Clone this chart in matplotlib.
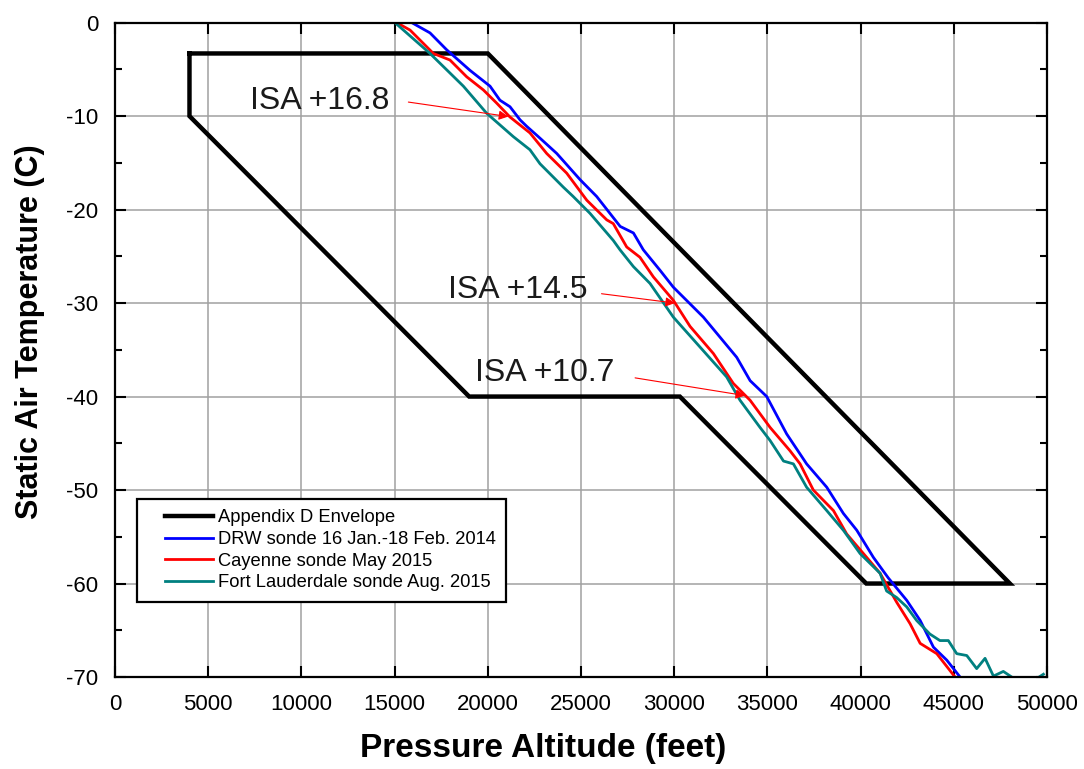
import numpy as np
import matplotlib
matplotlib.use('Agg')
import matplotlib.pyplot as plt
from matplotlib.ticker import MultipleLocator
from matplotlib.lines import Line2D
from matplotlib.legend_handler import HandlerLine2D

plt.rcParams['font.family'] = ['Liberation Sans', 'DejaVu Sans']
plt.rcParams['axes.unicode_minus'] = False

# Appendix D envelope corners (altitude ft, temperature C)
env_alt = [4000, 20000, 48000, 40300, 30300, 19000, 4000, 4000]
env_temp = [-3.3, -3.3, -60, -60, -40, -40, -10, -3.3]

# DRW sonde 16 Jan.-18 Feb. 2014
drw_alt = [15920, 16900, 17790, 19040, 20120, 20650, 21190, 21730, 22090, 22710,
           23700, 24950, 25840, 27100, 27810, 28340, 29240, 29950, 31560, 33350,
           34070, 34960, 36030, 37100, 38180, 39070, 39790, 40680, 41480, 42470,
           43190, 43900, 44620, 45330]
drw_temp = [0, -1.1, -2.9, -5.1, -6.8, -8.3, -9.0, -10.4, -11.1, -12.2,
            -14.0, -16.8, -18.6, -21.8, -22.5, -24.3, -26.5, -28.3, -31.5, -35.8,
            -38.3, -40.0, -44.0, -47.2, -49.7, -52.5, -54.3, -57.2, -59.4, -61.8,
            -63.95, -66.8, -68.2, -70.0]

# Cayenne sonde May 2015
cay_alt = [15110, 15830, 17080, 17970, 18870, 19760, 20470, 21190, 22260, 23160,
           24230, 25310, 26380, 26730, 27450, 28160, 28880, 29950, 30850, 32100,
           33170, 34070, 35140, 36210, 36750, 37460, 38540, 39250, 40320, 41040,
           41930, 42650, 43190, 44080, 45060]
cay_temp = [0, -0.8, -3.3, -4.0, -5.8, -7.2, -8.6, -10.1, -11.8, -14.0,
            -16.1, -19.0, -21.1, -21.5, -24.0, -25.1, -27.2, -29.7, -32.5, -35.4,
            -38.6, -40.4, -43.3, -45.8, -47.2, -50.0, -52.2, -54.7, -57.2, -58.9,
            -62.0, -64.3, -66.4, -67.5, -70.0]

# Fort Lauderdale sonde Aug. 2015
ftl_alt = [15020, 16900, 18690, 19940, 21370, 22260, 22800, 24050, 24580, 25480,
           26730, 27090, 27810, 28700, 29950, 31380, 32810, 33530, 34600, 35140,
           35860, 36390, 37100, 38180, 39070, 39970, 41040, 41390, 41930, 42470,
           43000, 43710, 44250, 44700, 45150, 45690, 46220, 46670, 47120, 47650,
           48100, 48800, 49800]
ftl_temp = [0, -3.3, -6.8, -9.7, -12.2, -13.6, -15.1, -17.6, -18.6, -20.4,
            -23.3, -24.3, -26.1, -27.9, -31.5, -34.7, -37.9, -40.4, -43.3, -44.7,
            -46.9, -47.2, -49.7, -52.2, -54.3, -56.8, -58.9, -60.8, -61.5, -62.5,
            -63.95, -65.4, -66.1, -66.1, -67.5, -67.7, -69.1, -68.0, -69.9, -69.4,
            -70.0, -71.0, -69.7]

labels = ['Appendix D Envelope', 'DRW sonde 16 Jan.-18 Feb. 2014',
          'Cayenne sonde May 2015', 'Fort Lauderdale sonde Aug. 2015']

# ISA deviation notes: text, text position, arrow start, arrow end
isa_text = ['ISA +16.8', 'ISA +14.5', 'ISA +10.7']
isa_text_pos = [(7240, -8.4), (17860, -28.6), (19310, -37.5)]
isa_from = [(15740, -8.5), (26100, -29.0), (27900, -38.0)]
isa_to = [(21100, -10.05), (30040, -30.0), (33800, -39.9)]

fig = plt.figure(figsize=(10.84, 7.69), dpi=100)
ax = fig.add_axes([0.106, 0.1196, 0.86, 0.851])

ax.plot(env_alt, env_temp, color='black', lw=3.2, label=labels[0], solid_joinstyle='miter')
ax.plot(drw_alt, drw_temp, color='#0000ff', lw=2, label=labels[1])
ax.plot(cay_alt, cay_temp, color='#ff0000', lw=2, label=labels[2])
ax.plot(ftl_alt, ftl_temp, color='#008080', lw=2, label=labels[3])

for t, p, a, b in zip(isa_text, isa_text_pos, isa_from, isa_to):
    ax.text(p[0], p[1], t, fontsize=23, ha='left', va='center', color='#1a1a1a')
    ax.annotate('', xy=b, xytext=a,
                arrowprops=dict(arrowstyle='-|>', color='red', lw=0.8,
                                mutation_scale=14, shrinkA=0, shrinkB=0))

ax.set_xlim(0, 50000)
ax.set_ylim(-70, 0)
ax.xaxis.set_major_locator(MultipleLocator(5000))
ax.yaxis.set_major_locator(MultipleLocator(10))
ax.yaxis.set_minor_locator(MultipleLocator(5))
ax.grid(True, which='major', color='#a0a0a0', lw=1.1)
ax.set_axisbelow(True)

ax.tick_params(which='major', direction='in', length=8, width=1.5,
               top=True, right=True, labelsize=16, pad=12)
ax.tick_params(which='minor', direction='in', length=5, width=1.5, right=True)
for s in ax.spines.values():
    s.set_linewidth(1.6)

ax.set_xlabel('Pressure Altitude (feet)', fontsize=24, fontweight='bold')
ax.set_ylabel('Static Air Temperature (C)', fontsize=22, fontweight='bold')
ax.xaxis.set_label_coords(0.459, -0.086)
ax.yaxis.set_label_coords(-0.075, 0.5275)

leg = ax.legend(loc='upper left', bbox_to_anchor=(0.0236, 0.272), fontsize=13.2,
                handlelength=3.58, handletextpad=0.27, labelspacing=0.25,
                fancybox=False, framealpha=1, edgecolor='black', borderpad=0.57,
                borderaxespad=0, handler_map={Line2D: HandlerLine2D(xpad=0.96)})
leg.get_frame().set_linewidth(1.6)

fig.savefig('out.png', dpi=100)
